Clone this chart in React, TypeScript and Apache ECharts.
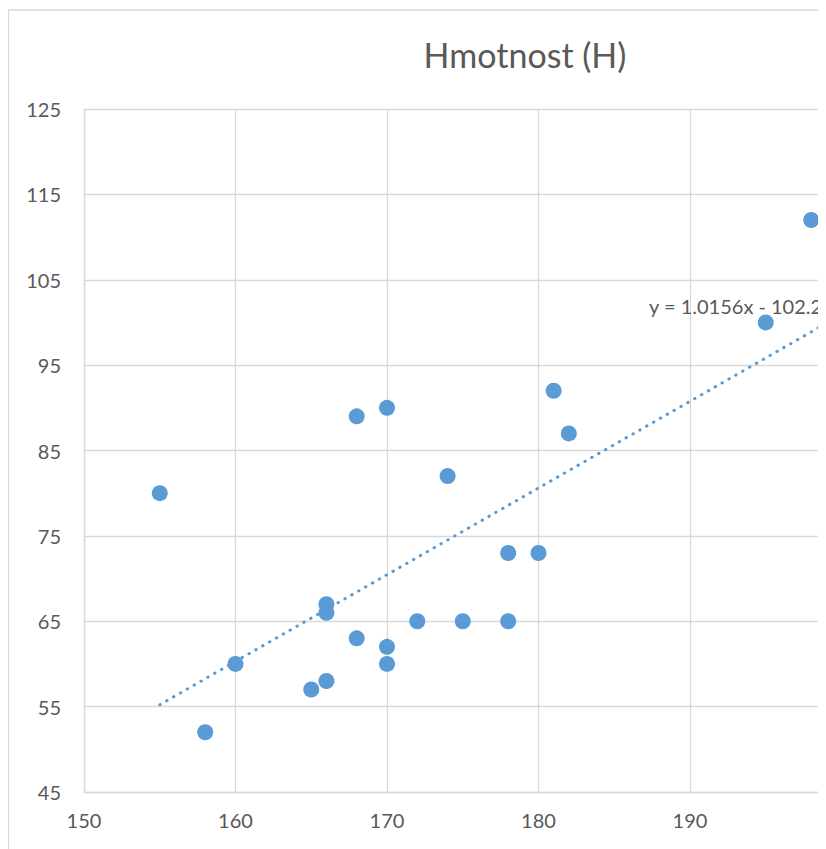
import React, { useEffect, useRef } from "react";
import * as echarts from "echarts";

const chartTitle = "Hmotnost (H)";
const heights = [155, 158, 160, 165, 166, 166, 166, 168, 168, 170, 170, 170, 172, 174, 175, 178, 178, 180, 181, 182, 195, 198];
const weights = [80, 52, 60, 57, 58, 66, 67, 63, 89, 90, 62, 60, 65, 82, 65, 73, 65, 73, 92, 87, 100, 112];
const trendSlope = 1.0156;
const trendIntercept = -102.2;
const trendRange = [155, 200];
const equationText = "y = 1.0156x - 102.2";
const xRange = [150, 200];
const yRange = [45, 125];

const FONT = "Lato, 'Open Sans', sans-serif";
const TEXT = "#595959";
const GRID = "#d9d9d9";
const BLUE = "#5b9bd5";

export default function App() {
  const ref = useRef<HTMLDivElement>(null);
  useEffect(() => {
    if (!ref.current) return;
    const chart = echarts.init(ref.current, undefined, { renderer: "svg" });
    const points = heights.map((h, i) => [h, weights[i]]);
    const trend = trendRange.map((x) => [x, trendSlope * x + trendIntercept]);
    chart.setOption({
      animation: false,
      backgroundColor: "#ffffff",
      textStyle: { fontFamily: FONT },
      graphic: [
        {
          type: "rect",
          shape: { x: 0.5, y: 2, width: 1200, height: 1200 },
          style: { fill: "none", stroke: GRID, lineWidth: 1.3 },
          z: 0,
        },
        {
          type: "text",
          x: 517,
          y: 46,
          style: {
            text: chartTitle,
            fontSize: 34,
            fontFamily: FONT,
            fill: TEXT,
            textAlign: "center",
            textVerticalAlign: "middle",
          },
        },
        {
          type: "text",
          x: 641,
          y: 298,
          z: 5,
          style: {
            text: equationText,
            fontSize: 20,
            fontFamily: FONT,
            fill: TEXT,
            textAlign: "left",
            textVerticalAlign: "middle",
          },
        },
      ],
      grid: { left: 76, top: 101, width: 757.5, height: 683, containLabel: false },
      xAxis: {
        type: "value",
        min: xRange[0],
        max: xRange[1],
        interval: 10,
        axisLine: { show: true, lineStyle: { color: GRID, width: 1.3 } },
        axisTick: { show: false },
        axisLabel: { color: TEXT, fontSize: 20, fontFamily: FONT, margin: 18, showMaxLabel: false },
        splitLine: { show: true, lineStyle: { color: GRID, width: 1.3 } },
      },
      yAxis: {
        type: "value",
        min: yRange[0],
        max: yRange[1],
        interval: 10,
        axisLine: { show: true, lineStyle: { color: GRID, width: 1.3 } },
        axisTick: { show: false },
        axisLabel: { color: TEXT, fontSize: 20, fontFamily: FONT, margin: 23 },
        splitLine: { show: true, lineStyle: { color: GRID, width: 1.3 } },
      },
      series: [
        {
          type: "line",
          data: trend,
          symbol: "none",
          z: 2,
          lineStyle: { color: BLUE, width: 3, type: [0.5, 7.4], cap: "round" },
          silent: true,
        },
        {
          type: "scatter",
          data: points,
          symbol: "circle",
          symbolSize: 16,
          z: 3,
          itemStyle: { color: BLUE, opacity: 1 },
        },
      ],
    });
    return () => chart.dispose();
  }, []);
  return (
    <div style={{ width: 815, height: 841, overflow: "hidden", position: "relative" }}>
      <div ref={ref} style={{ width: 1034, height: 900 }} />
    </div>
  );
}
